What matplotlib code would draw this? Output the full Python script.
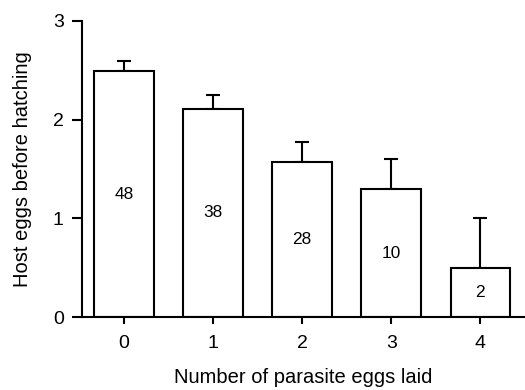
import matplotlib
matplotlib.use("Agg")
import matplotlib.pyplot as plt

categories = ["0", "1", "2", "3", "4"]
means = [2.49, 2.11, 1.57, 1.30, 0.50]
errors = [0.10, 0.14, 0.20, 0.30, 0.50]
counts = ["48", "38", "28", "10", "2"]
yticks = [0, 1, 2, 3]

plt.rcParams['font.family'] = ['Liberation Sans', 'DejaVu Sans']

fig = plt.figure(figsize=(5.25, 3.9), dpi=100)
ax = fig.add_axes([0.1556, 0.1864, 0.8444, 0.7606])

x = list(range(len(categories)))
ax.bar(x, means, width=0.67, color='white', edgecolor='black', linewidth=1.5, zorder=2)
ax.errorbar(x, means, yerr=[[0]*len(errors), errors], fmt='none', ecolor='black',
            elinewidth=1.5, capsize=4.7, capthick=1.5, zorder=1)
for xi, m, c in zip(x, means, counts):
    ax.text(xi, m / 2, c, ha='center', va='center', fontsize=12.4)

ax.set_xlim(-0.474, 4.5)
ax.set_ylim(0, 3)
ax.set_xticks(x)
ax.set_xticklabels(categories, fontsize=14)
ax.set_yticks(yticks)
ax.set_yticklabels([str(t) for t in yticks], fontsize=14)
ax.spines['top'].set_visible(False)
ax.spines['right'].set_visible(False)
ax.spines['left'].set_linewidth(1.5)
ax.spines['bottom'].set_linewidth(1.5)
ax.tick_params(axis='y', width=1.5, length=7.2, pad=5.8, color='black')
ax.tick_params(axis='x', width=1.5, length=5, pad=8, color='black')
ax.set_xlabel("Number of parasite eggs laid", fontsize=14.5, labelpad=11.5)
ax.set_ylabel("Host eggs before hatching", fontsize=14.5, labelpad=15)

fig.savefig("out.png", dpi=100)
